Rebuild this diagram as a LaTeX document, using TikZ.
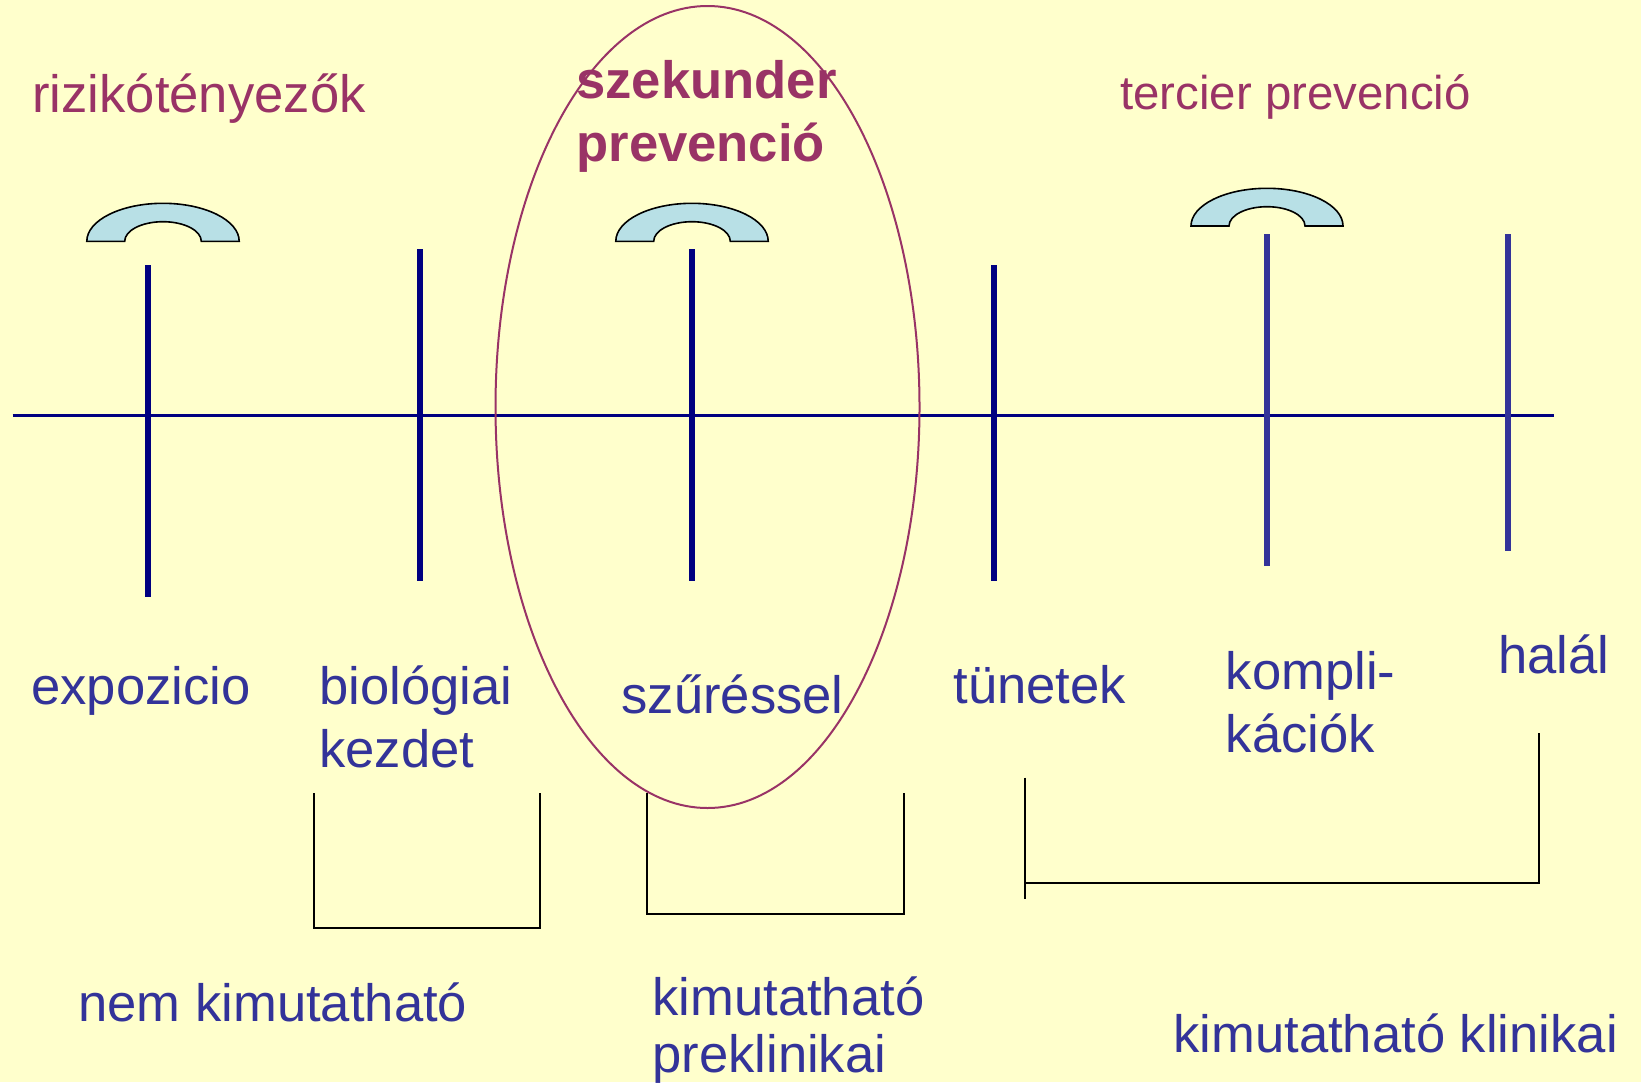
\documentclass[tikz,border=0pt]{standalone}
\usepackage{fontspec}
\setmainfont{Liberation Sans}
\definecolor{bgyellow}{RGB}{255,255,204}
\definecolor{navyline}{RGB}{0,0,128}
\definecolor{lightnavy}{RGB}{51,51,153}
\definecolor{plum}{RGB}{153,51,102}
\definecolor{archblue}{RGB}{184,224,230}
\begin{document}
\begin{tikzpicture}[x=0.5pt,y=-0.5pt,
  lbl/.style={anchor=base west, inner sep=0pt, text=lightnavy, align=left, font=\fontsize{26.3}{31.8}\selectfont},
  ttl/.style={anchor=base west, inner sep=0pt, text=plum, align=left, font=\fontsize{26.3}{31.8}\selectfont},
  tickline/.style={line width=3pt, draw=navyline},
  arch/.style={fill=archblue, draw=black, line width=0.8pt},
  brk/.style={draw=black, line width=1pt}]
\fill [bgyellow] (0,0) rectangle (1641,1082);
\useasboundingbox (0,0) rectangle (1641,1082);
\draw [line width=1.7pt, navyline] (12.6,415.5) -- (1554,415.5);
\draw [tickline] (147.6,265) -- (147.6,597);
\draw [tickline] (419.7,249) -- (419.7,581);
\draw [tickline] (691.8,249) -- (691.8,581);
\draw [tickline] (994.3,265) -- (994.3,581);
\draw [tickline, draw=lightnavy] (1266.5,234) -- (1266.5,566);
\draw [tickline, draw=lightnavy] (1508.2,234) -- (1508.2,551);
\draw [arch] (86.8,241.3) arc [start angle=180, end angle=360, x radius=76.2, y radius=38] -- (201.3,241.3) arc [start angle=0, end angle=-180, x radius=38.3, y radius=19.6] -- cycle;
\draw [arch] (615.8,241.3) arc [start angle=180, end angle=360, x radius=76.2, y radius=38] -- (730.3,241.3) arc [start angle=0, end angle=-180, x radius=38.3, y radius=19.6] -- cycle;
\draw [arch] (1191,226) arc [start angle=180, end angle=360, x radius=76, y radius=37.7] -- (1305,226) arc [start angle=0, end angle=-180, x radius=38, y radius=19.3] -- cycle;
\draw [brk] (314,793) -- (314,928) -- (540,928) -- (540,793);
\draw [brk] (647,793) -- (647,914) -- (903.5,914) -- (903.5,793);
\draw [brk] (1024.7,777.5) -- (1024.7,899);
\draw [brk] (1024.7,883.3) -- (1538.7,883.3) -- (1538.7,732.5);
\node [ttl] (risk) at (32,112.7) {rizikótényezők};
\node [ttl, font=\bfseries\fontsize{26.3}{31.7}\selectfont] (szek) at (576,161.7) {szekunder\\prevenció};
\node [ttl, font=\fontsize{23.7}{28}\selectfont] (terc) at (1120,109) {tercier prevenció};
\node [lbl] (expo) at (31,704) {expozicio};
\node [lbl] (biol) at (319,767.7) {biológiai\\kezdet};
\node [lbl] (szur) at (621,713) {szűréssel};
\node [lbl] (tun) at (953,703) {tünetek};
\node [lbl] (kompl) at (1225.5,752.7) {kompli-\\kációk};
\node [lbl] (halal) at (1498,673) {halál};
\node [lbl] (nemkim) at (78,1021) {nem kimutatható};
\node [lbl, font=\fontsize{26.3}{28.5}\selectfont] (prekl) at (652,1072) {kimutatható\\preklinikai};
\node [lbl] (klin) at (1173,1052) {kimutatható klinikai};
\draw [plum, line width=1pt] (707.5,407) ellipse [x radius=212, y radius=401];
\end{tikzpicture}
\end{document}
